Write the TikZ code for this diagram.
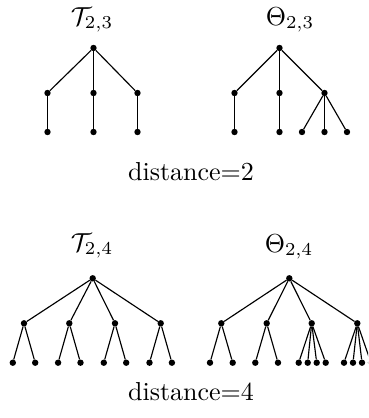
\documentclass[tikz,border=0pt]{standalone}
\begin{document}
\begin{tikzpicture}[x=1pt,y=-1pt,
  dot/.style={circle,fill=black,inner sep=0pt,minimum size=6.4pt},
  edge/.style={line width=1.15pt},
  lbl/.style={font=\normalsize,anchor=base,inner sep=0pt,scale=2.6,transform shape}]
\useasboundingbox (0,0) rectangle (368,418);
\clip (0,0) rectangle (368,418);
% labels
\node[lbl] (lT23) at (92,25) {$\mathcal{T}_{2,3}$};
\node[lbl] (lO23) at (290,25) {$\Theta_{2,3}$};
\node[lbl] (ld2) at (191,180) {distance=2};
\node[lbl] (lT24) at (92,251) {$\mathcal{T}_{2,4}$};
\node[lbl] (lO24) at (289,252) {$\Theta_{2,4}$};
\node[lbl] (ld4) at (191,400) {distance=4};
% top-left tree
\node[dot] (a0) at (93.5,48) {};
\foreach \n/\x in {1/47.5,2/93.5,3/137.5}{
  \node[dot] (a\n) at (\x,93) {};
  \node[dot] (a\n1) at (\x,132) {};
  \draw[edge] (a0) -- (a\n);
  \draw[edge] (a\n) -- (a\n1);
}
% top-right tree
\node[dot] (b0) at (279.5,48) {};
\foreach \n/\x in {1/234.5,2/279.5,3/324.5}{
  \node[dot] (b\n) at (\x,93) {};
  \draw[edge] (b0) -- (b\n);
}
\node[dot] (b11) at (234.5,132) {};
\node[dot] (b21) at (279.5,132) {};
\node[dot] (b31) at (302,132) {};
\node[dot] (b32) at (324.5,132) {};
\node[dot] (b33) at (347,132) {};
\draw[edge] (b1) -- (b11);
\draw[edge] (b2) -- (b21);
\draw[edge] (b3) -- (b31);
\draw[edge] (b3) -- (b32);
\draw[edge] (b3) -- (b33);
% bottom-left tree
\node[dot] (c0) at (92.7,278.3) {};
\foreach \n/\x in {1/24,2/69.3,3/115,4/160.7}{
  \node[dot] (c\n) at (\x,323.3) {};
  \node[dot] (c\n1) at (\x-11.2,362.7) {};
  \node[dot] (c\n2) at (\x+11.2,362.7) {};
  \draw[edge] (c0) -- (c\n);
  \draw[edge] (c\n) -- (c\n1);
  \draw[edge] (c\n) -- (c\n2);
}
% bottom-right tree
\node[dot] (d0) at (289.3,278.3) {};
\foreach \n/\x in {1/221.3,2/266.7,3/311.7,4/357.3}{
  \node[dot] (d\n) at (\x,323.3) {};
  \draw[edge] (d0) -- (d\n);
}
\foreach \n/\x in {1/210,2/232.7}{
  \node[dot] (d1\n) at (\x,362.7) {};
  \draw[edge] (d1) -- (d1\n);
}
\foreach \n/\x in {1/255.3,2/278}{
  \node[dot] (d2\n) at (\x,362.7) {};
  \draw[edge] (d2) -- (d2\n);
}
\foreach \n/\x in {1/298.7,2/307.7,3/316.7,4/325.7}{
  \node[dot] (d3\n) at (\x,362.7) {};
  \draw[edge] (d3) -- (d3\n);
}
\foreach \n/\x in {1/344,2/353,3/362,4/371}{
  \node[dot] (d4\n) at (\x,362.7) {};
  \draw[edge] (d4) -- (d4\n);
}
\end{tikzpicture}
\end{document}
